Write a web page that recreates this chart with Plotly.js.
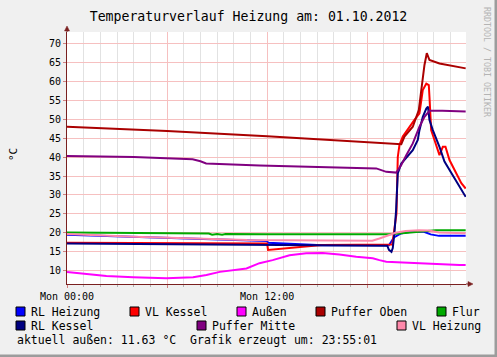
<!DOCTYPE html>
<html>
<head>
<meta charset="utf-8">
<script src="https://cdn.plot.ly/plotly-3.0.1.min.js"></script>
<style>html,body{margin:0;padding:0;background:#f0f0f0;}#chart{width:497px;height:357px;}</style>
</head>
<body>
<div id="chart"></div>
<script>
// ---- data (hours since Mon 00:00, °C) ----
const seriesNames = ['RL Heizung','VL Kessel','Außen','Puffer Oben','Flur','RL Kessel','Puffer Mitte','VL Heizung'];

const rlHeizungH = [0, 10.8, 12.0, 12.05, 15.3, 19.3, 19.6, 20.0, 20.6, 21.4, 21.8, 22.3, 23.9];
const rlHeizungV = [19.5, 17.9, 17.85, 17.4, 16.75, 16.7, 18.8, 19.8, 20.3, 20.3, 19.6, 19.2, 19.2];

const vlKesselH = [0, 6, 12.0, 12.05, 15.3, 19.5, 19.75, 19.83, 19.93, 20.13, 20.53, 20.83, 21.13, 21.23, 21.33, 21.54, 21.69, 21.73, 21.83, 22.03, 22.33, 22.53, 22.69, 22.93, 23.34, 23.64, 23.9];
const vlKesselV = [17.4, 17.3, 17.2, 15.5, 16.8, 16.9, 25, 40, 43.2, 45.4, 48, 49.8, 51.5, 54.6, 57.7, 59.4, 59, 55.9, 47.1, 44.5, 40.5, 42.7, 42.7, 39.2, 35.7, 33.1, 31.7];

const aussenH = [0, 1.16, 2.36, 3.96, 5.96, 7.56, 8.36, 9.16, 10.34, 10.76, 11.54, 12.33, 13.34, 14.34, 15.33, 16.33, 17.34, 18.33, 18.73, 19.14, 20.13, 22.14, 23.53, 23.9];
const aussenV = [9.7, 9.1, 8.6, 8.3, 8.0, 8.3, 8.9, 9.7, 10.4, 10.6, 12.0, 12.8, 14.1, 14.6, 14.7, 14.3, 13.7, 13.3, 12.8, 12.4, 12.2, 11.7, 11.5, 11.5];

const pufferObenH = [0, 6, 12, 16, 19.6, 20.04, 20.23, 20.73, 21.09, 21.24, 21.33, 21.43, 21.57, 21.73, 22.33, 23.9];
const pufferObenV = [48, 46.9, 45.5, 44.4, 43.6, 43.4, 45.4, 48, 52.4, 57.7, 62, 64.3, 67.4, 65.6, 64.7, 63.4];

const flurH = [0, 4, 8.5, 8.7, 9.0, 9.3, 9.5, 12, 16, 19.3, 20.1, 21.1, 22.1, 23.9];
const flurV = [20.1, 20.0, 19.8, 19.5, 19.7, 19.5, 19.7, 19.6, 19.6, 19.6, 19.9, 20.3, 20.7, 20.7];

const rlKesselH = [0, 6, 12, 19.2, 19.3, 19.45, 19.53, 19.63, 19.73, 19.77, 19.83, 20.04, 20.34, 20.73, 21.03, 21.13, 21.33, 21.54, 21.64, 21.73, 21.93, 22.33, 22.63, 22.93, 23.34, 23.9];
const rlKesselV = [17.2, 17.0, 16.8, 16.6, 15.5, 15.0, 16, 20, 26, 32, 35.7, 38.3, 39.7, 41.8, 44.5, 47.1, 50.6, 52.8, 53.3, 49.8, 47.1, 42.7, 38.8, 36.6, 33.5, 29.5];

const pufferMitteH = [0, 4, 7.53, 8.0, 8.34, 11.54, 18.54, 19.14, 19.74, 20.04, 20.34, 20.73, 21.13, 21.43, 21.73, 22.5, 23.9];
const pufferMitteV = [40.3, 40.0, 39.4, 38.9, 38.3, 37.8, 37.0, 36.1, 35.9, 37.9, 40.5, 43.6, 48.0, 50.6, 52.2, 52.2, 52.0];

const vlHeizungH = [0, 4, 10.8, 15, 18.3, 18.73, 19.3, 19.7, 20.3, 21.1, 21.7, 22.3, 23.9];
const vlHeizungV = [19.7, 19.0, 18.1, 18.0, 17.9, 18.5, 19.4, 20.0, 20.5, 20.7, 20.6, 20.1, 19.9];

const xTickVals = [0, 6, 12, 18];
const xTickText = ['Mon 00:00', '', 'Mon 12:00', ''];
const yTickVals = [10, 15, 20, 25, 30, 35, 40, 45, 50, 55, 60, 65, 70];

const titleText = 'Temperaturverlauf Heizung am: 01.10.2012';
const footerText = 'aktuell außen: 11.63 °C \u00a0Grafik erzeugt um: 23:55:01';

// ---- styles ----
const colors = ['#0000ff','#ff0000','#ff00ff','#aa0000','#00aa00','#000080','#800080','#ff88aa'];
const xs = [rlHeizungH, vlKesselH, aussenH, pufferObenH, flurH, rlKesselH, pufferMitteH, vlHeizungH];
const ys = [rlHeizungV, vlKesselV, aussenV, pufferObenV, flurV, rlKesselV, pufferMitteV, vlHeizungV];

const W = 497, H = 357;
const M = {l: 67, r: 31, t: 32, b: 73};
const PW = W - M.l - M.r, PH = H - M.t - M.b;
const fx = p => (p - M.l) / PW;
const fy = p => (H - M.b - p) / PH;
const mono = 'DejaVu Sans Mono, monospace';
const axisCol = '#7a2020';

const traces = seriesNames.map((n, i) => ({
  type: 'scatter', mode: 'lines', name: n, x: xs[i], y: ys[i],
  line: {color: colors[i], width: 2}, hoverinfo: 'skip'
}));

const legendPos = [[16,311.5],[130,311.5],[237,311.5],[316,311.5],[437,311.5],[16,325.5],[197,325.5],[397,325.5]];

const shapes = [];
const annotations = [];
legendPos.forEach((p, i) => {
  shapes.push({type:'rect', xref:'paper', yref:'paper', x0: fx(p[0]), x1: fx(p[0]+9), y0: fy(p[1]+4.5), y1: fy(p[1]-4.5),
    fillcolor: colors[i], line:{color:'#000', width:1}});
  annotations.push({xref:'paper', yref:'paper', x: fx(p[0]+13), y: fy(p[1]), xanchor:'left', yanchor:'middle',
    text: seriesNames[i], showarrow:false, font:{family:mono, size:11.5, color:'#000'}});
});
annotations.push({xref:'paper', yref:'paper', x: fx(15), y: fy(339.5), xanchor:'left', yanchor:'middle',
  text: footerText, showarrow:false, font:{family:mono, size:11.5, color:'#000'}});
annotations.push({xref:'paper', yref:'paper', x: fx(13), y: fy(155), xanchor:'center', yanchor:'middle',
  text: '°C', textangle: -90, showarrow:false, font:{family:mono, size:11, color:'#000'}});
annotations.push({xref:'paper', yref:'paper', x: fx(487), y: fy(62), xanchor:'center', yanchor:'middle',
  text: 'RRDTOOL / TOBI OETIKER', textangle: 90, showarrow:false, font:{family:mono, size:8.3, color:'#b4b4b4'}});

// arrows
shapes.push({type:'line', xref:'paper', yref:'paper', x0: fx(67), x1: fx(67), y0: fy(32), y1: fy(29), line:{color:axisCol, width:1}});
shapes.push({type:'path', xref:'paper', yref:'paper', path:
  `M ${fx(64.5)} ${fy(31)} L ${fx(67)} ${fy(26)} L ${fx(69.5)} ${fy(31)} Z`, fillcolor: axisCol, line:{color:axisCol, width:0.5}});
shapes.push({type:'line', xref:'paper', yref:'paper', x0: fx(466), x1: fx(469), y0: fy(284), y1: fy(284), line:{color:axisCol, width:1}});
shapes.push({type:'path', xref:'paper', yref:'paper', path:
  `M ${fx(468)} ${fy(281.5)} L ${fx(473)} ${fy(284)} L ${fx(468)} ${fy(286.5)} Z`, fillcolor: axisCol, line:{color:axisCol, width:0.5}});
// frame shading
shapes.push({type:'rect', xref:'paper', yref:'paper', x0: fx(494.5), x1: fx(497), y0: fy(357), y1: fy(0), fillcolor:'#9c9c9c', line:{width:0}});
shapes.push({type:'rect', xref:'paper', yref:'paper', x0: fx(0), x1: fx(497), y0: fy(357), y1: fy(354.5), fillcolor:'#9c9c9c', line:{width:0}});

const layout = {
  width: W, height: H, margin: M,
  paper_bgcolor: '#f0f0f0', plot_bgcolor: '#ffffff',
  showlegend: false,
  title: {text: titleText, x: 0.5, xref: 'container', y: 1 - 16/H, yref: 'container', yanchor: 'middle', xanchor: 'center',
    font: {family: mono, size: 13.2, color: '#000'}},
  xaxis: {range: [0, 23.92], tickmode: 'array', tickvals: xTickVals, ticktext: xTickText,
    showgrid: true, gridcolor: '#f6c0c0', gridwidth: 1, zeroline: false,
    showline: true, linecolor: axisCol, linewidth: 1,
    ticks: 'outside', ticklen: 3, tickcolor: '#d08080',
    tickfont: {family: mono, size: 10, color: '#000'},
    minor: {dtick: 1, tick0: 0, showgrid: true, gridcolor: '#e2e2e2', gridwidth: 1, ticks: 'outside', ticklen: 2, tickcolor: '#b0b0b0'},
    fixedrange: true},
  yaxis: {range: [6.5, 73], tickmode: 'array', tickvals: yTickVals,
    showgrid: true, gridcolor: '#f6c0c0', gridwidth: 1, zeroline: false,
    showline: true, linecolor: axisCol, linewidth: 1,
    ticks: 'outside', ticklen: 3, tickcolor: '#d08080',
    tickfont: {family: mono, size: 10, color: '#000'}, fixedrange: true},
  shapes: shapes, annotations: annotations
};

Plotly.newPlot('chart', traces, layout, {staticPlot: true, displayModeBar: false});
</script>
</body>
</html>
